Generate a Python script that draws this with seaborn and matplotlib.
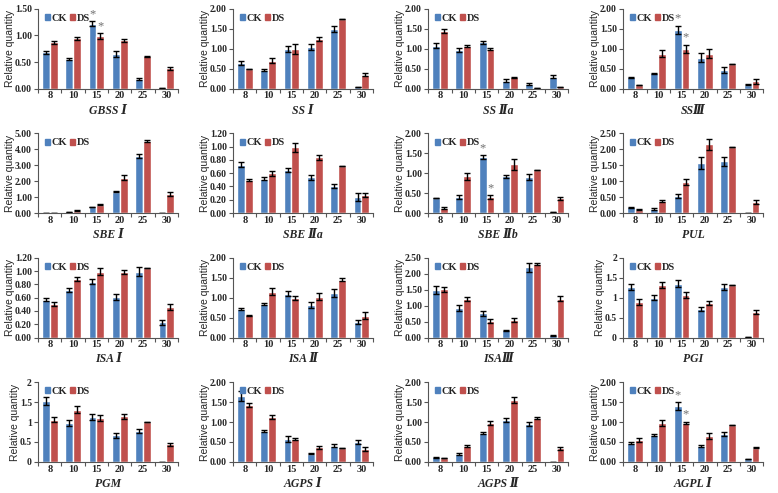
import numpy as np
import pandas as pd
import matplotlib
matplotlib.use('Agg')
import matplotlib.pyplot as plt
import seaborn as sns
from matplotlib.patches import Patch
from matplotlib.ticker import MultipleLocator, FormatStrFormatter

# Stages (days after flowering) and genes
stages = ['8', '10', '15', '20', '25', '30']
genes = ['GBSS Ⅰ', 'SS Ⅰ', 'SS Ⅱa', 'SSⅢ',
         'SBE Ⅰ', 'SBE Ⅱa', 'SBE Ⅱb', 'PUL',
         'ISA Ⅰ', 'ISA Ⅱ', 'ISAⅢ', 'PGI',
         'PGM', 'AGPS Ⅰ', 'AGPS Ⅱ', 'AGPL Ⅰ']

# Relative quantity, one row per gene
ck_mean = [
    [0.68, 0.56, 1.22, 0.65, 0.18, 0.01],
    [0.64, 0.47, 1.00, 1.05, 1.50, 0.03],
    [1.08, 0.98, 1.16, 0.20, 0.11, 0.30],
    [0.28, 0.38, 1.48, 0.78, 0.46, 0.10],
    [0.02, 0.08, 0.38, 1.35, 3.60, 0.00],
    [0.73, 0.52, 0.65, 0.54, 0.41, 0.24],
    [0.37, 0.41, 1.40, 0.92, 0.91, 0.03],
    [0.18, 0.13, 0.53, 1.57, 1.62, 0.00],
    [0.57, 0.72, 0.84, 0.61, 0.99, 0.23],
    [0.71, 0.84, 1.10, 0.81, 1.12, 0.39],
    [1.49, 0.93, 0.76, 0.22, 2.20, 0.07],
    [1.26, 1.00, 1.35, 0.72, 1.26, 0.01],
    [1.53, 0.98, 1.13, 0.67, 0.77, 0.00],
    [1.66, 0.78, 0.57, 0.21, 0.41, 0.51],
    [0.12, 0.20, 0.72, 1.05, 0.96, 0.01],
    [0.48, 0.67, 1.40, 0.40, 0.70, 0.07],
]
ds_mean = [
    [0.87, 0.95, 0.99, 0.91, 0.61, 0.38],
    [0.49, 0.70, 1.00, 1.25, 1.75, 0.35],
    [1.44, 1.07, 0.99, 0.28, 0.02, 0.03],
    [0.09, 0.88, 1.00, 0.88, 0.63, 0.18],
    [0.03, 0.15, 0.53, 2.22, 4.52, 1.20],
    [0.50, 0.60, 0.99, 0.84, 0.71, 0.27],
    [0.13, 0.92, 0.40, 1.22, 1.08, 0.37],
    [0.11, 0.38, 0.97, 2.15, 2.08, 0.35],
    [0.50, 0.88, 0.99, 0.98, 1.04, 0.46],
    [0.56, 1.15, 0.99, 1.02, 1.45, 0.55],
    [1.51, 1.21, 0.53, 0.56, 2.30, 1.22],
    [0.89, 1.32, 1.06, 0.87, 1.31, 0.64],
    [1.06, 1.31, 1.10, 1.14, 0.99, 0.44],
    [1.43, 1.12, 0.57, 0.37, 0.35, 0.32],
    [0.09, 0.40, 0.98, 1.55, 1.10, 0.34],
    [0.55, 0.97, 0.98, 0.65, 0.92, 0.36],
]
ck_err = [
    [0.03, 0.02, 0.05, 0.05, 0.02, 0.00],
    [0.05, 0.02, 0.08, 0.07, 0.07, 0.00],
    [0.07, 0.05, 0.04, 0.04, 0.02, 0.03],
    [0.02, 0.02, 0.10, 0.12, 0.08, 0.01],
    [0.00, 0.01, 0.03, 0.06, 0.12, 0.00],
    [0.04, 0.02, 0.03, 0.04, 0.03, 0.06],
    [0.00, 0.05, 0.05, 0.03, 0.08, 0.00],
    [0.02, 0.02, 0.06, 0.18, 0.15, 0.00],
    [0.02, 0.03, 0.04, 0.04, 0.07, 0.04],
    [0.03, 0.03, 0.07, 0.07, 0.10, 0.04],
    [0.12, 0.10, 0.08, 0.01, 0.15, 0.02],
    [0.08, 0.07, 0.08, 0.05, 0.07, 0.00],
    [0.10, 0.07, 0.08, 0.06, 0.05, 0.00],
    [0.12, 0.03, 0.08, 0.02, 0.03, 0.05],
    [0.01, 0.02, 0.03, 0.05, 0.05, 0.00],
    [0.02, 0.02, 0.10, 0.03, 0.04, 0.00],
]
ds_err = [
    [0.03, 0.03, 0.05, 0.03, 0.01, 0.03],
    [0.01, 0.06, 0.12, 0.05, 0.00, 0.04],
    [0.05, 0.02, 0.02, 0.01, 0.00, 0.00],
    [0.01, 0.08, 0.10, 0.12, 0.00, 0.07],
    [0.00, 0.02, 0.04, 0.15, 0.04, 0.15],
    [0.01, 0.04, 0.07, 0.04, 0.00, 0.03],
    [0.03, 0.08, 0.05, 0.13, 0.00, 0.04],
    [0.02, 0.02, 0.10, 0.17, 0.00, 0.06],
    [0.03, 0.03, 0.05, 0.03, 0.00, 0.05],
    [0.01, 0.08, 0.06, 0.09, 0.03, 0.08],
    [0.08, 0.07, 0.06, 0.06, 0.04, 0.08],
    [0.07, 0.08, 0.07, 0.05, 0.00, 0.04],
    [0.07, 0.09, 0.07, 0.07, 0.00, 0.04],
    [0.06, 0.05, 0.02, 0.04, 0.00, 0.05],
    [0.00, 0.03, 0.05, 0.08, 0.02, 0.04],
    [0.04, 0.07, 0.03, 0.08, 0.00, 0.01],
]
y_max = [1.5, 2, 2, 2, 5, 1.2, 2, 2.5, 1.2, 2, 2.5, 2, 2, 2, 2, 2]
y_step = [0.5, 0.5, 0.5, 0.5, 1, 0.2, 0.5, 0.5, 0.2, 0.5, 0.5, 0.5, 0.5, 0.5, 0.5, 0.5]
plain_ticks = ['PGI', 'PGM']
starred = ['GBSS Ⅰ', 'SSⅢ', 'SBE Ⅱb', 'AGPL Ⅰ']

sns.set_style('ticks')
plt.rcParams['font.family'] = ['Liberation Serif', 'DejaVu Serif']

colors = {'CK': '#4F81BD', 'DS': '#C0504D'}
axis_col = '#555555'

fig, axes = plt.subplots(4, 4, figsize=(7.78, 4.93), dpi=100)
fig.subplots_adjust(left=0.049, right=0.981, top=0.982, bottom=0.063,
                    wspace=0.393, hspace=0.56)

for i, ax in enumerate(axes.flat):
    df = pd.DataFrame({
        'stage': stages * 2,
        'value': ck_mean[i] + ds_mean[i],
        'group': ['CK'] * 6 + ['DS'] * 6,
    })
    sns.barplot(data=df, x='stage', y='value', hue='group', order=stages,
                hue_order=['CK', 'DS'], palette=colors, width=0.68,
                errorbar=None, saturation=1, legend=False, ax=ax)

    # error bars on top of each bar
    errs = [ck_err[i], ds_err[i]]
    bar_conts = list(ax.containers)
    tops = []
    for k, cont in enumerate(bar_conts):
        xs = [p.get_x() + p.get_width() / 2 for p in cont.patches]
        hs = [p.get_height() for p in cont.patches]
        ax.errorbar(xs, hs, yerr=errs[k], fmt='none', ecolor='black',
                    elinewidth=1, capsize=2, capthick=1)
        tops.append((xs, hs))

    if genes[i] in starred:
        for k in range(2):
            xs, hs = tops[k]
            ax.text(xs[2], hs[2] + errs[k][2] + y_max[i] * 0.015, '*',
                    ha='center', va='bottom', fontsize=9, color='#707070')

    ax.set_ylim(0, y_max[i])
    ax.set_xlim(-0.5, 5.5)
    ax.yaxis.set_major_locator(MultipleLocator(y_step[i]))
    if genes[i] in plain_ticks:
        ax.yaxis.set_major_formatter(plt.FuncFormatter(lambda v, p: f'{v:g}'))
    else:
        ax.yaxis.set_major_formatter(FormatStrFormatter('%.2f'))

    # excel style ticks between categories
    ax.set_xticks(np.arange(-0.5, 6, 1), minor=True)
    ax.tick_params(axis='x', which='major', length=0, pad=2, labelsize=7.5)
    ax.tick_params(axis='x', which='minor', length=3, width=0.8, color=axis_col)
    ax.tick_params(axis='y', length=3, width=0.8, pad=1.5, labelsize=7,
                   color=axis_col)
    for lab in ax.get_xticklabels() + ax.get_yticklabels():
        lab.set_fontweight('bold')
    sns.despine(ax=ax)
    for s in ['left', 'bottom']:
        ax.spines[s].set_color(axis_col)
        ax.spines[s].set_linewidth(0.8)

    ax.set_ylabel('Relative quantity', fontsize=7.5, family='Liberation Sans',
                  labelpad=0)
    ax.set_xlabel(genes[i], fontsize=8.5, fontweight='bold', style='italic',
                  labelpad=3)

    handles = [Patch(color=colors['CK']), Patch(color=colors['DS'])]
    ax.legend(handles, ['CK', 'DS'], loc='upper left', bbox_to_anchor=(0.02, 0.99),
              ncol=2, frameon=False, handlelength=0.5, handleheight=0.5,
              handletextpad=0.15, columnspacing=0.25, borderaxespad=0,
              prop={'size': 7.5, 'weight': 'bold'})

fig.savefig('out.png', dpi=100, facecolor='white')
